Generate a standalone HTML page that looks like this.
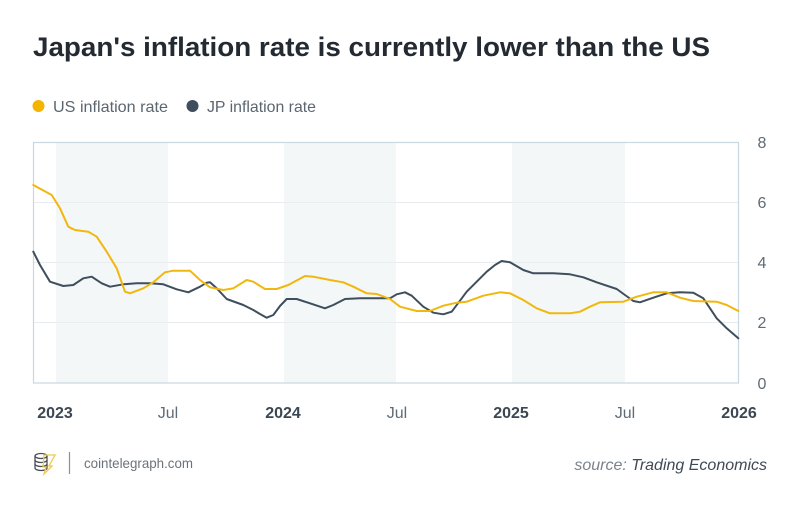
<!DOCTYPE html>
<html><head><meta charset="utf-8"><style>
html,body{margin:0;padding:0;background:#fff;}
svg{display:block;}
</style></head><body>
<svg width="800" height="508" viewBox="0 0 800 508" xmlns="http://www.w3.org/2000/svg">
<rect width="800" height="508" fill="#fff"/>
<text x="33" y="56" font-family="Liberation Sans, sans-serif" font-weight="bold" font-size="27" fill="#232a31" textLength="677" lengthAdjust="spacingAndGlyphs">Japan's inflation rate is currently lower than the US</text>
<circle cx="38.5" cy="106" r="6" fill="#f4b400"/>
<text x="53" y="112" font-family="Liberation Sans, sans-serif" font-size="16" fill="#5b6670" textLength="115" lengthAdjust="spacingAndGlyphs">US inflation rate</text>
<circle cx="192.5" cy="106" r="6" fill="#3e4e5c"/>
<text x="207" y="112" font-family="Liberation Sans, sans-serif" font-size="16" fill="#5b6670" textLength="109" lengthAdjust="spacingAndGlyphs">JP inflation rate</text>
<!-- shaded bands -->
<rect x="56" y="143" width="112" height="240" fill="#f3f7f8"/>
<rect x="284" y="143" width="112" height="240" fill="#f3f7f8"/>
<rect x="512" y="143" width="113" height="240" fill="#f3f7f8"/>
<!-- gridlines -->
<g stroke="#e9edf0" stroke-width="1">
<line x1="33" y1="202.5" x2="739" y2="202.5"/>
<line x1="33" y1="262.5" x2="739" y2="262.5"/>
<line x1="33" y1="322.5" x2="739" y2="322.5"/>
</g>
<rect x="33.5" y="142.5" width="705" height="240.5" fill="none" stroke="#c9d7e1" stroke-width="1.2"/>
<!-- JP -->
<polyline fill="none" stroke="#3e4e5c" stroke-width="2" stroke-linejoin="round" stroke-linecap="round" points="33.3,251.7 40,265 50,281.7 63.3,286 73.3,285 83.3,278.3 91.7,276.7 101.7,283.3 110,286.7 123.3,284.3 136.7,283.3 150,283.3 163.3,284.3 176.7,289.3 188.3,292.3 200,286.7 206.7,282.7 210,282.3 216.7,288.3 226.7,299 243.3,305 253.3,310 260,314 266.7,317.7 273.3,315 280,306 286.7,299 296.7,299 310,303.3 325,308.3 333.3,305 345,299 360,298.3 390,298.3 396.7,294.3 405,292.3 411.7,295.7 423.3,306.7 433.3,312.7 443.3,314.3 451.7,311.7 466.7,291.7 486.7,271.7 495,265 501.7,261 510,262.3 523.3,270 533.3,273.3 553.3,273.3 570,274.3 583.3,277.3 596.7,282.3 616.7,289 625,295 633.3,301 640,302.3 653.3,297.7 666.7,293.3 680,292.3 693.3,292.7 703.3,298.3 710,308.3 716.7,318.3 726.7,328.3 738.3,338.3"/>
<!-- US -->
<polyline fill="none" stroke="#f2b70d" stroke-width="2" stroke-linejoin="round" stroke-linecap="round" points="33.3,185 51.7,195 60,208.3 68.3,226.7 75,230 88.3,231.7 96.7,236.7 106.7,251.7 116.7,268.3 125,291.7 130,293.3 143.3,288.3 153.3,282.3 165,272.3 173.3,270.7 190,270.7 200,280 210,287.3 223.3,290 233.3,288.3 246.7,280 253.3,281.7 265,289 276.7,289 288.3,285 305,276 313.3,276.7 330,280 343.3,282.3 353.3,286.7 366.7,293.3 376.7,294 390,299 400,306.7 416.7,311 430,311 443.3,305.7 456.7,302.7 466.7,301.7 483.3,295.7 500,292.3 510,293.3 523.3,300 536.7,308.3 550,313.3 570,313.3 580,311.7 590,306.7 600,302.3 623.3,301.7 636.7,296.7 653.3,292.3 666.7,292.3 680,297.7 693.3,301 716.7,301.7 726.7,305 738.3,311"/>
<!-- y labels -->
<g font-family="Liberation Sans, sans-serif" font-size="16" fill="#5f6b75" text-anchor="middle">
<text x="762" y="148">8</text>
<text x="762" y="208">6</text>
<text x="762" y="268">4</text>
<text x="762" y="328">2</text>
<text x="762" y="389">0</text>
</g>
<!-- x labels -->
<g font-family="Liberation Sans, sans-serif" font-size="16" text-anchor="middle">
<text x="55" y="418" font-weight="bold" fill="#3b4752">2023</text>
<text x="168" y="418" fill="#5f6b75">Jul</text>
<text x="283" y="418" font-weight="bold" fill="#3b4752">2024</text>
<text x="397" y="418" fill="#5f6b75">Jul</text>
<text x="511" y="418" font-weight="bold" fill="#3b4752">2025</text>
<text x="625" y="418" fill="#5f6b75">Jul</text>
<text x="739" y="418" font-weight="bold" fill="#3b4752">2026</text>
</g>
<!-- footer logo -->
<g fill="none" stroke="#4a4f55" stroke-width="1.3">
<ellipse cx="41" cy="456" rx="6" ry="2.5"/>
<path d="M35,456 v12 a6,2.5 0 0 0 12,0 v-12"/>
<path d="M35,460 a6,2.5 0 0 0 12,0"/>
<path d="M35,464 a6,2.5 0 0 0 12,0"/>
</g>
<path d="M44,455 L55,455 L49,466 L52,466 L44,474 L46,467 L43,467 Z" fill="none" stroke="#f2c94c" stroke-width="1.3"/>
<line x1="69.5" y1="452" x2="69.5" y2="474" stroke="#8a9097" stroke-width="1.2"/>
<text x="84" y="468" font-family="Liberation Sans, sans-serif" font-size="14" fill="#6b737a" textLength="109" lengthAdjust="spacingAndGlyphs">cointelegraph.com</text>
<text x="767" y="470" text-anchor="end" font-family="Liberation Sans, sans-serif" font-size="16" font-style="italic"><tspan fill="#7a838b">source: </tspan><tspan fill="#3e4a55">Trading Economics</tspan></text>
</svg>
</body></html>
